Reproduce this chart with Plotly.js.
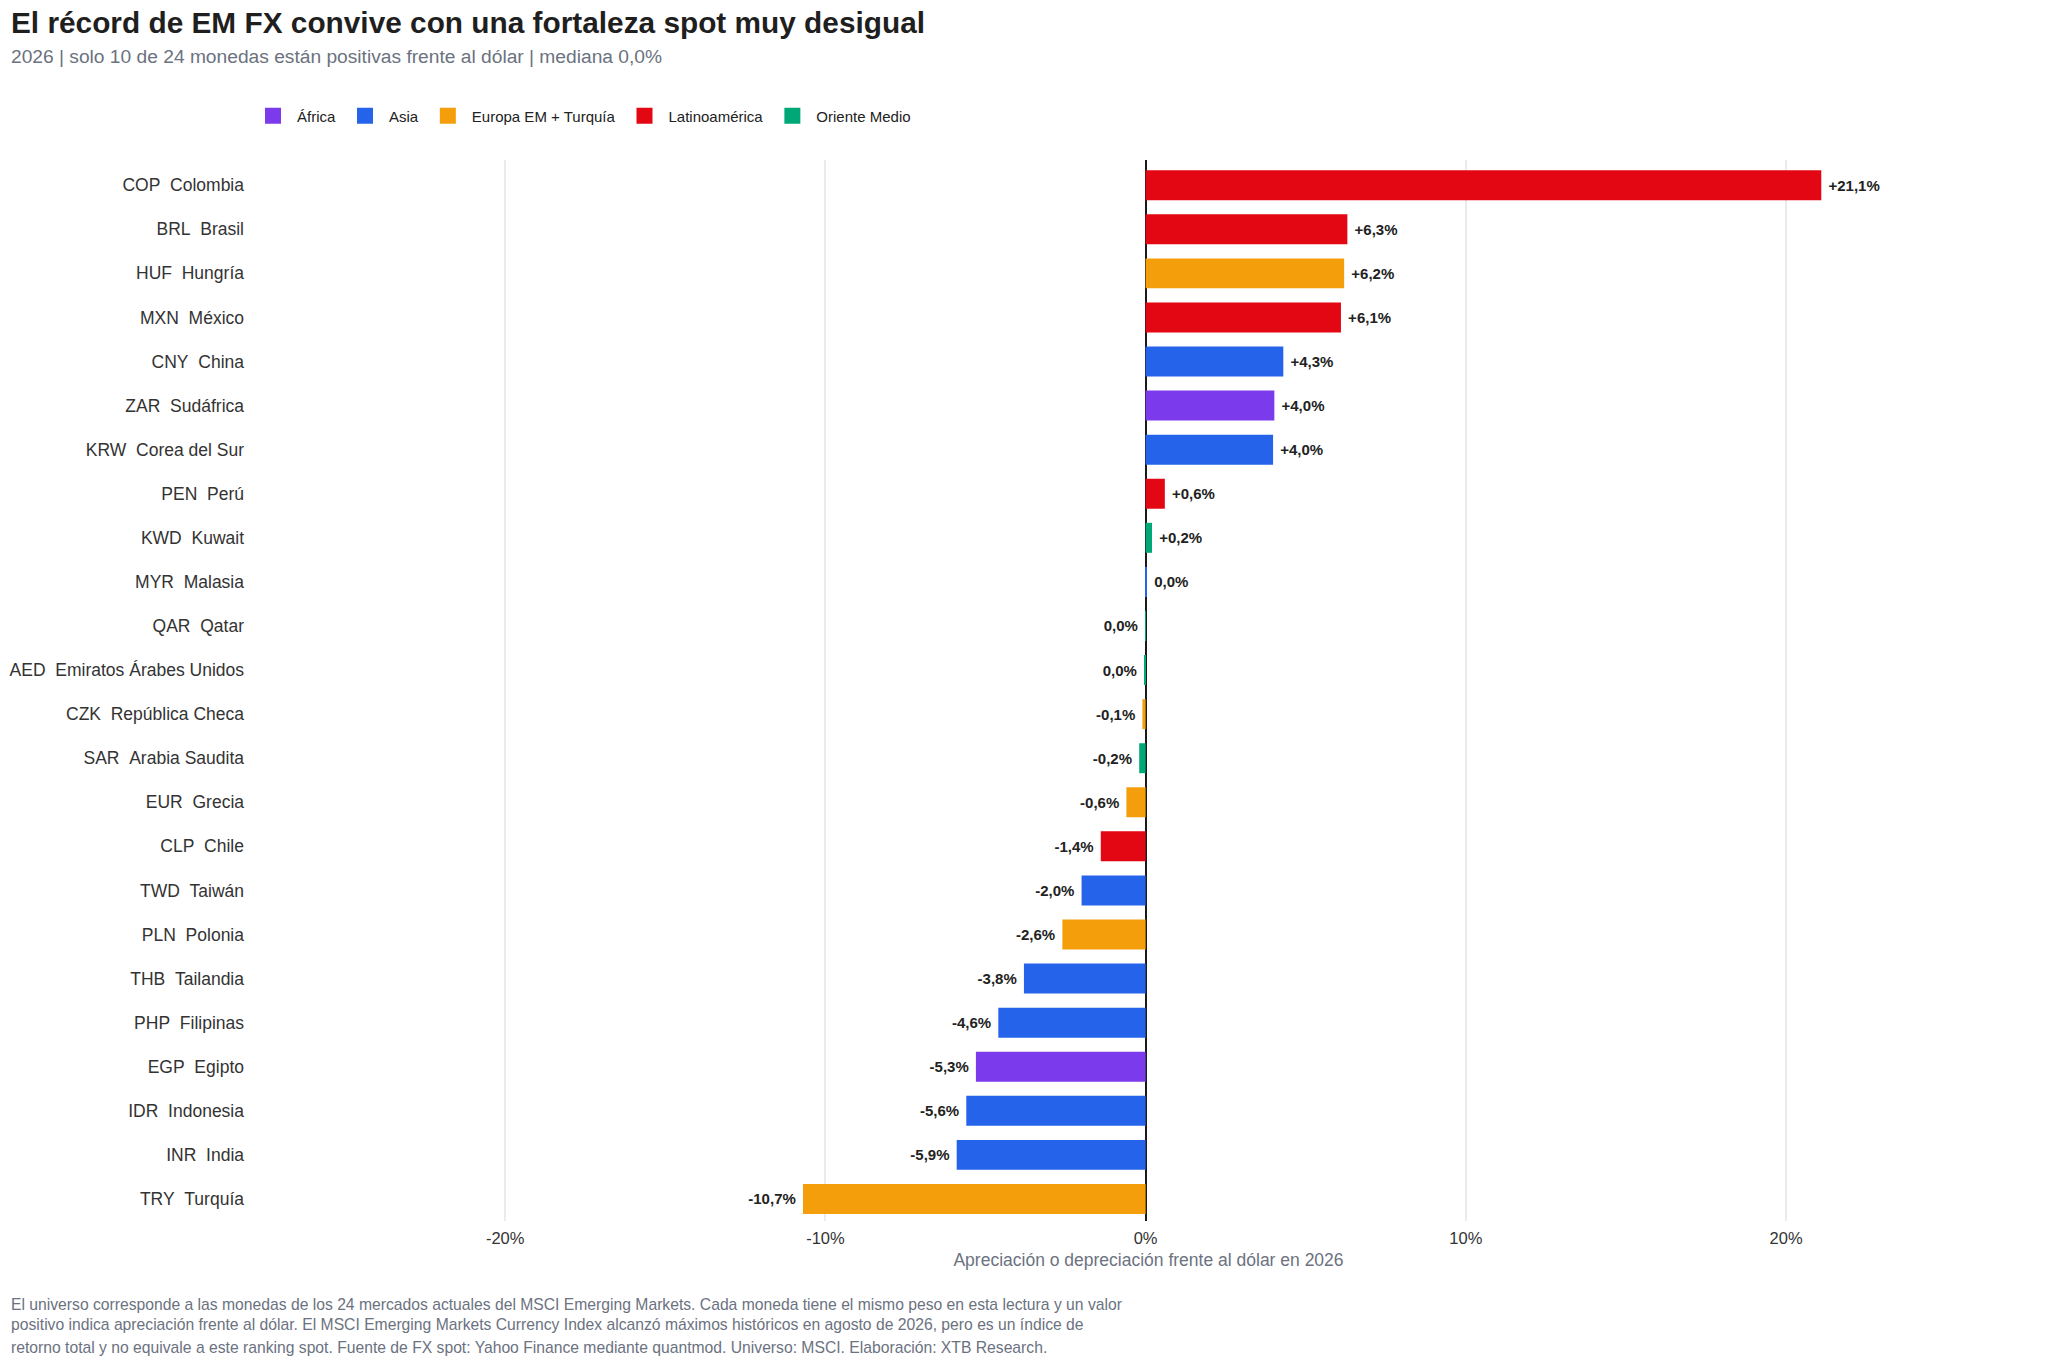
<!DOCTYPE html>
<html>
<head>
<meta charset="utf-8">
<script src="https://cdn.plot.ly/plotly-3.0.1.min.js"></script>
<style>
  html, body {margin: 0; padding: 0; background: #fff;}
  #chart {width: 2048px; height: 1365px;}
</style>
</head>
<body>
<div id="chart"></div>
<script>
// data, top to bottom as in the ranking
var codes = ['COP', 'BRL', 'HUF', 'MXN', 'CNY', 'ZAR', 'KRW', 'PEN', 'KWD', 'MYR', 'QAR', 'AED',
             'CZK', 'SAR', 'EUR', 'CLP', 'TWD', 'PLN', 'THB', 'PHP', 'EGP', 'IDR', 'INR', 'TRY'];
var countries = ['Colombia', 'Brasil', 'Hungría', 'México', 'China', 'Sudáfrica', 'Corea del Sur', 'Perú',
                 'Kuwait', 'Malasia', 'Qatar', 'Emiratos Árabes Unidos', 'República Checa', 'Arabia Saudita',
                 'Grecia', 'Chile', 'Taiwán', 'Polonia', 'Tailandia', 'Filipinas', 'Egipto', 'Indonesia',
                 'India', 'Turquía'];
var returns = [21.1, 6.3, 6.2, 6.1, 4.3, 4.02, 3.98, 0.6, 0.2, 0.02, -0.01, -0.02,
               -0.1, -0.2, -0.6, -1.4, -2.0, -2.6, -3.8, -4.6, -5.3, -5.6, -5.9, -10.7];
var regions = ['Latinoamérica', 'Latinoamérica', 'Europa EM + Turquía', 'Latinoamérica', 'Asia', 'África',
               'Asia', 'Latinoamérica', 'Oriente Medio', 'Asia', 'Oriente Medio', 'Oriente Medio',
               'Europa EM + Turquía', 'Oriente Medio', 'Europa EM + Turquía', 'Latinoamérica', 'Asia',
               'Europa EM + Turquía', 'Asia', 'Asia', 'África', 'Asia', 'Asia', 'Europa EM + Turquía'];

var regionNames = ['África', 'Asia', 'Europa EM + Turquía', 'Latinoamérica', 'Oriente Medio'];
var regionColors = ['#7c3aed', '#2563eb', '#f59e0b', '#e30613', '#00a878'];

var tickVals = [-20, -10, 0, 10, 20];
var tickText = ['-20%', '-10%', '0%', '10%', '20%'];

var footLines = [
    'El universo corresponde a las monedas de los 24 mercados actuales del MSCI Emerging Markets. Cada moneda tiene el mismo peso en esta lectura y un valor',
    'positivo indica apreciación frente al dólar. El MSCI Emerging Markets Currency Index alcanzó máximos históricos en agosto de 2026, pero es un índice de',
    'retorno total y no equivale a este ranking spot. Fuente de FX spot: Yahoo Finance mediante quantmod. Universo: MSCI. Elaboración: XTB Research.'
];

var font = 'Liberation Sans, Arial, Helvetica, sans-serif';

function label(i) {
    return codes[i] + '\u00a0\u00a0' + countries[i];
}
function fmt(v) { // +6,3% / -1,4% / 0,0%
    let s = Math.abs(v).toFixed(1).replace('.', ',') + '%';
    if (s === '0,0%') return v >= 0 ? '\u00a0' + s : s + '\u00a0';
    return v > 0 ? '\u00a0+' + s : '-' + s + '\u00a0';
}

var labels = codes.map(function (c, i) { return label(i); });

var traces = [];
for (let r = 0; r < regionNames.length; r++) {
    let xs = [], ys = [], ts = [];
    for (let i = 0; i < codes.length; i++) {
        if (regions[i] !== regionNames[r]) continue;
        xs.push(returns[i]);
        ys.push(labels[i]);
        ts.push(fmt(returns[i]));
    }
    traces.push({
        type: 'bar',
        orientation: 'h',
        name: regionNames[r],
        legendgroup: regionNames[r],
        showlegend: false,
        x: xs,
        y: ys,
        text: ts,
        textposition: 'outside',
        cliponaxis: false,
        constraintext: 'none',
        textfont: {family: font, size: 15, color: '#222222', weight: 'bold'},
        marker: {color: regionColors[r], line: {width: 0}},
        width: 0.68,
        hoverinfo: 'x+y'
    });
    // legend entry with a bigger square swatch
    traces.push({
        type: 'scatter',
        mode: 'markers',
        name: regionNames[r],
        legendgroup: regionNames[r],
        x: [null],
        y: [null],
        marker: {symbol: 'square', size: 16, color: regionColors[r]},
        hoverinfo: 'skip'
    });
}

var annots = [
    {
        xref: 'paper', yref: 'paper', x: -0.1334, y: 1.130, xanchor: 'left', yanchor: 'middle',
        text: '<b>El récord de EM FX convive con una fortaleza spot muy desigual</b>',
        showarrow: false, font: {family: font, size: 29.8, color: '#1f1f1f'}
    },
    {
        xref: 'paper', yref: 'paper', x: -0.1334, y: 1.098, xanchor: 'left', yanchor: 'middle',
        text: '2026 | solo 10 de 24 monedas están positivas frente al dólar | mediana 0,0%',
        showarrow: false, font: {family: font, size: 19.2, color: '#6b7280'}
    }
];
var footY = [-0.079, -0.0975, -0.1188];
for (let k = 0; k < footLines.length; k++) {
    annots.push({
        xref: 'paper', yref: 'paper', x: -0.1334, y: footY[k], xanchor: 'left', yanchor: 'middle',
        text: footLines[k], showarrow: false,
        font: {family: font, size: 15.7, color: '#6b7280'}
    });
}

var layout = {
    width: 2048,
    height: 1365,
    paper_bgcolor: '#ffffff',
    plot_bgcolor: '#ffffff',
    font: {family: font, color: '#333333'},
    margin: {l: 249, r: 0, t: 160, b: 144},
    barmode: 'overlay',
    showlegend: true,
    legend: {
        orientation: 'h',
        x: 0, xanchor: 'left',
        y: 1.0415, yanchor: 'middle',
        itemwidth: 38,
        font: {family: font, size: 15, color: '#222222'},
        traceorder: 'normal'
    },
    xaxis: {
        range: [-28.0, 28.18],
        tickvals: tickVals,
        ticktext: tickText,
        showgrid: true,
        gridcolor: '#ebebeb',
        gridwidth: 1.5,
        zeroline: true,
        zerolinecolor: '#1a1a1a',
        zerolinewidth: 2,
        showline: false,
        ticks: '',
        ticklabelstandoff: 5,
        tickfont: {family: font, size: 16.5, color: '#333333'},
        title: {text: 'Apreciación o depreciación frente al dólar en 2026',
                font: {family: font, size: 17.5, color: '#6b7280'}, standoff: 8}
    },
    yaxis: {
        type: 'category',
        categoryorder: 'array',
        categoryarray: labels,
        range: [23.5, -0.572],
        showgrid: false,
        zeroline: false,
        ticks: '',
        ticklabelstandoff: 4,
        tickfont: {family: font, size: 17.5, color: '#333333'}
    },
    annotations: annots
};

Plotly.newPlot('chart', traces, layout, {displayModeBar: false, responsive: false});
</script>
</body>
</html>
